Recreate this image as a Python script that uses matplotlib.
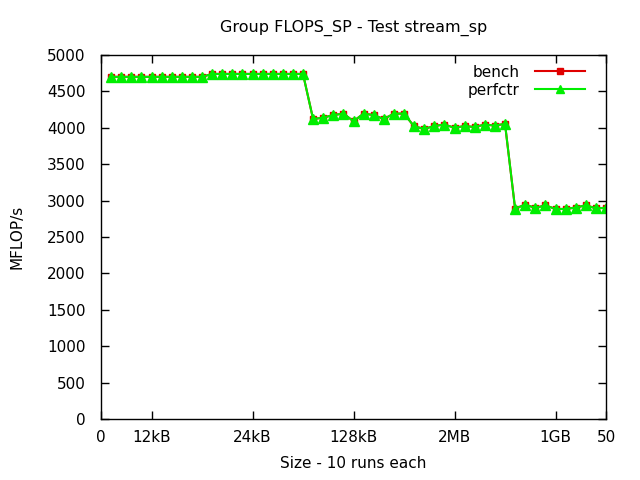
import matplotlib
matplotlib.use("Agg")
import matplotlib.pyplot as plt
import numpy as np

title = "Group FLOPS_SP - Test stream_sp"
runs = np.arange(1, 51)
tick_pos = [0, 5, 15, 25, 35, 45, 50]
tick_labels = ["0", "12kB", "24kB", "128kB", "2MB", "1GB", "50"]

bench = [4700] * 10 + [4740] * 10 + \
    [4120, 4140, 4175, 4195, 4090, 4195, 4175, 4120, 4195, 4195] + \
    [4020, 3985, 4025, 4045, 4000, 4025, 4010, 4045, 4030, 4055] + \
    [2890, 2945, 2900, 2935, 2885, 2885, 2905, 2935, 2895, 2900]
perfctr = list(bench)

plt.rcParams["font.family"] = "DejaVu Sans"
fig = plt.figure(figsize=(6.4, 4.8), dpi=100)
ax = fig.add_axes([101 / 640, 1 - 419 / 480, 505 / 640, 364 / 480])

ax.plot(runs, bench, color="#e00000", lw=1.5, marker="s", ms=5, label="bench")
ax.plot(runs, perfctr, color="#00ee00", lw=1.5, marker="^", ms=7, label="perfctr")

ax.set_xlim(0, 50)
ax.set_ylim(0, 5000)
ax.set_yticks(np.arange(0, 5001, 500))
ax.set_xticks(tick_pos)
ax.set_xticklabels(tick_labels)
ax.tick_params(direction="in", top=True, right=True, length=6, width=1, labelsize=11)
ax.tick_params(axis="x", pad=8)
ax.tick_params(axis="y", pad=11)
for s in ax.spines.values():
    s.set_linewidth(1)

ax.set_title(title, fontsize=11.5, pad=17)
ax.set_xlabel("Size - 10 runs each", fontsize=11, labelpad=8)
ax.set_ylabel("MFLOP/s", fontsize=11, labelpad=16)

ax.legend(loc="upper right", bbox_to_anchor=(1 - 7 / 505, 1 + 4 / 364),
          frameon=False, markerfirst=False, fontsize=11,
          handlelength=3.3, handletextpad=1.0, markerscale=0.8,
          borderaxespad=0.5, labelspacing=0.2)

fig.savefig("out.png", dpi=100)
